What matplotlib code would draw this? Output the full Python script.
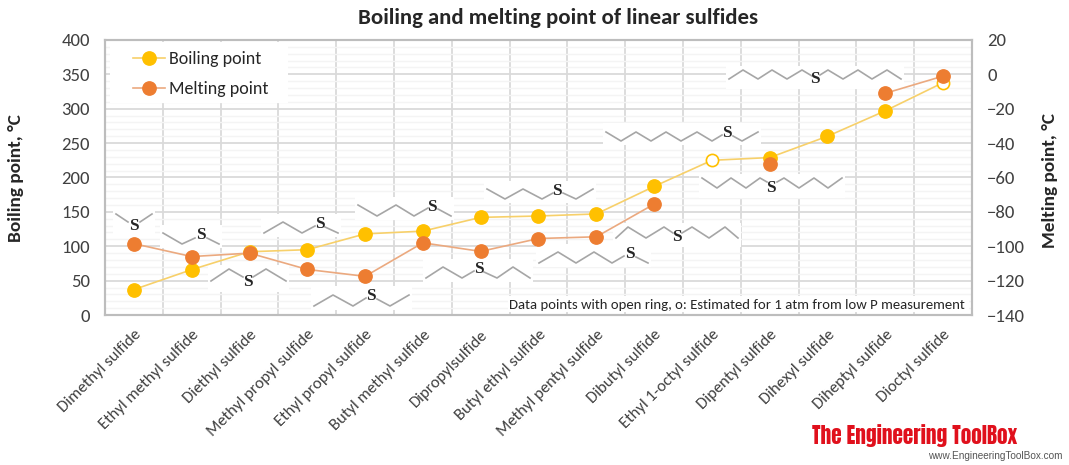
#!/usr/bin/env python3
# Boiling and melting point of linear sulfides, two y axes
import numpy as np
import matplotlib
matplotlib.use("Agg")
import matplotlib.pyplot as plt
from matplotlib.lines import Line2D
from matplotlib.patches import Rectangle
from matplotlib.ticker import MultipleLocator
from matplotlib.transforms import Affine2D

plt.rcParams['font.family'] = ['Carlito', 'Lato', 'DejaVu Sans']

W, H = 1069, 465

sulfides = ["Dimethyl sulfide", "Ethyl methyl sulfide", "Diethyl sulfide",
            "Methyl propyl sulfide", "Ethyl propyl sulfide", "Butyl methyl sulfide",
            "Dipropylsulfide", "Butyl ethyl sulfide", "Methyl pentyl sulfide",
            "Dibutyl sulfide", "Ethyl 1-octyl sulfide", "Dipentyl sulfide",
            "Dihexyl sulfide", "Diheptyl sulfide", "Dioctyl sulfide"]
boiling = [37, 66, 92, 95, 118, 122, 142, 144, 147, 187, 225, 229, 260, 297, 338]
melting = [-98.5, -106, -104, -113.5, -117.5, -98, -103, -95.5, -94.5, -75.5,
           np.nan, -52, np.nan, -11, -1]
open_ring = [10, 14]

YELLOW = "#FFC000"
ORANGE = "#ED7D31"
TXT = "#404040"

# skeletal formulas: left chain, right chain, position of the S
molecules = [
    ([(116, 214), (128, 222)], [(140, 222), (152, 214)], (134, 226)),
    ([(163, 233), (182, 244), (195, 238)], [(207, 238), (219, 244)], (201, 235)),
    ([(211, 281), (229, 269), (243, 277)], [(253, 277), (266, 269), (286, 281)], (248, 282)),
    ([(264, 233), (283, 222), (302, 233), (315, 226)], [(325, 227), (338, 233)], (320, 224)),
    ([(314, 306), (333, 295), (353, 306), (366, 298)], [(377, 299), (390, 306), (409, 295)], (371, 296)),
    ([(358, 205), (377, 216), (396, 205), (414, 216), (428, 208)], [(438, 209), (451, 216)], (432, 207)),
    ([(426, 278), (443, 267), (462, 278), (474, 271)], [(484, 272), (497, 278), (513, 267), (530, 278)], (479, 269)),
    ([(487, 189), (505, 199), (523, 189), (542, 199), (553, 193)], [(563, 193), (576, 199), (593, 189)], (557, 191)),
    ([(539, 263), (558, 252), (576, 263), (594, 252), (612, 263), (624, 256)], [(636, 257), (648, 263)], (630, 254)),
    ([(616, 238), (628, 227), (646, 238), (664, 227), (673, 233)],
     [(682, 233), (692, 227), (709, 238), (725, 227), (738, 238)], (677, 237)),
    ([(606, 132), (621, 141), (636, 132), (651, 141), (666, 132), (681, 141), (697, 132), (712, 141), (722, 135)],
     [(733, 136), (742, 141), (758, 132)], (727, 133)),
    ([(702, 178), (717, 188), (731, 178), (746, 188), (760, 178), (767, 182)],
     [(777, 182), (784, 178), (799, 188), (814, 178), (828, 188), (842, 178)], (771, 188)),
    ([(729, 79), (743, 70), (758, 79), (772, 70), (787, 79), (802, 70), (812, 76)],
     [(820, 75), (828, 70), (843, 79), (858, 70), (872, 79), (887, 70), (901, 79)], (815, 79)),
]

fig = plt.figure(figsize=(W / 100, H / 100), dpi=100)
ax = fig.add_axes([105 / W, 1 - 315 / H, (972 - 105) / W, (315 - 40) / H])
ax2 = ax.twinx()

# pixel coordinates, origin top left
px = Affine2D().scale(1, -1).translate(0, H)

x = np.arange(len(sulfides))

ax.set_xlim(-0.5, len(sulfides) - 0.5)
ax.set_ylim(0, 400)
ax2.set_ylim(-140, 20)
ax.set_xticks(x)
ax.set_xticklabels(sulfides, rotation=45, ha="right", va="top", rotation_mode="anchor",
                   fontsize=12, color=TXT)
ax.xaxis.set_minor_locator(MultipleLocator(1, offset=0.5))
ax.yaxis.set_major_locator(MultipleLocator(50))
ax.yaxis.set_minor_locator(MultipleLocator(10))
ax2.yaxis.set_major_locator(MultipleLocator(20))
ax.tick_params(axis="x", which="both", length=0, pad=9)
ax.tick_params(axis="y", which="both", length=0, pad=11, labelsize=13.5, labelcolor=TXT)
ax2.tick_params(axis="y", which="both", length=0, pad=11, labelsize=13.5, labelcolor=TXT)

ax.set_axisbelow(True)
ax.grid(True, which="minor", axis="y", color="#F4F4F4", lw=1.0, zorder=0)
ax.grid(True, which="major", axis="y", color="#DADADA", lw=1.3, zorder=0.5)
ax.grid(True, which="minor", axis="x", color="#DADADA", lw=1.3, zorder=0.5)
ax.grid(False, which="major", axis="x")
for a in (ax, ax2):
    for s in a.spines.values():
        s.set_color("#BDBDBD")
        s.set_linewidth(1.5)

# white backgrounds of the structure drawings, legend and note
def white_box(x0, y0, x1, y1):
    ax.add_patch(Rectangle((x0, y0), x1 - x0, y1 - y0, transform=px, facecolor="white",
                           edgecolor="none", zorder=1, clip_on=True))

white_box(110, 42, 288, 103)
white_box(508, 296, 969, 312)
for left, right, s in molecules:
    pts = np.array(left + right)
    white_box(pts[:, 0].min() - 3, min(pts[:, 1].min(), s[1] - 6) - 4,
              pts[:, 0].max() + 3, max(pts[:, 1].max(), s[1] + 6) + 4)

for left, right, s in molecules:
    for chain in (left, right):
        c = np.array(chain)
        ax.plot(c[:, 0], c[:, 1], transform=px, color="#A6A6A6", lw=1.2, zorder=2, scalex=False, scaley=False)
    ax.text(s[0], s[1], "S", transform=px, family="Liberation Serif", fontweight="bold",
            fontsize=12.5, color="#262626", ha="center", va="center", zorder=2.2)

# boiling point series
ax.plot(x, boiling, color="#F7D06A", lw=1.2, zorder=3)
filled = [i for i in x if i not in open_ring]
ax.plot(x[filled], np.array(boiling)[filled], ls="none", marker="o", ms=9.6,
        mfc=YELLOW, mec=YELLOW, zorder=4)
ax.plot(x[open_ring], np.array(boiling)[open_ring], ls="none", marker="o", ms=8.8,
        mfc="white", mec=YELLOW, mew=1.2, zorder=4)

# melting point series, gaps where no value exists
ax2.plot(x, melting, color="#EBA97F", lw=1.2, zorder=3)
ax2.plot(x, melting, ls="none", marker="o", ms=9.6, mfc=ORANGE, mec=ORANGE, zorder=4)

handles = [Line2D([], [], color="#F7D06A", lw=1.2, marker="o", ms=9.6, mfc=YELLOW, mec=YELLOW),
           Line2D([], [], color="#EBA97F", lw=1.2, marker="o", ms=9.6, mfc=ORANGE, mec=ORANGE)]
ax2.legend(handles, ["Boiling point", "Melting point"], loc="upper left",
           bbox_to_anchor=((133 - 105) / (972 - 105), 1 - (51 - 40) / 275), frameon=False,
           fontsize=13, labelcolor="#262626", handlelength=1.75, handletextpad=0.27,
           labelspacing=0.78, borderpad=0, borderaxespad=0)

ax2.text(965, 304.5, "Data points with open ring, o: Estimated for 1 atm from low P measurement",
         transform=px, ha="right", va="center", fontsize=10.6, color="#262626", zorder=5)

fig.text(558, 18, "Boiling and melting point of linear sulfides", transform=px, ha="center",
         va="center", fontsize=16.4, fontweight="bold", color="#262626")
fig.text(16, 178, "Boiling point, °C", transform=px, rotation=90, ha="center", va="center",
         fontsize=13.9, fontweight="bold", color="#262626")
fig.text(1050, 180, "Melting point, °C", transform=px, rotation=90, ha="center", va="center",
         fontsize=13.9, fontweight="bold", color="#262626")

# site name
fig.text(915, 436, "The Engineering ToolBox", transform=px, ha="center", va="center",
         family=["Anton", "Liberation Sans"], fontsize=15.2, color="#E0101C")
fig.text(1063, 456, "www.EngineeringToolBox.com", transform=px, ha="right", va="center",
         family="Liberation Sans", fontsize=7.2, color="#555555")

fig.savefig("out.png", dpi=100)
